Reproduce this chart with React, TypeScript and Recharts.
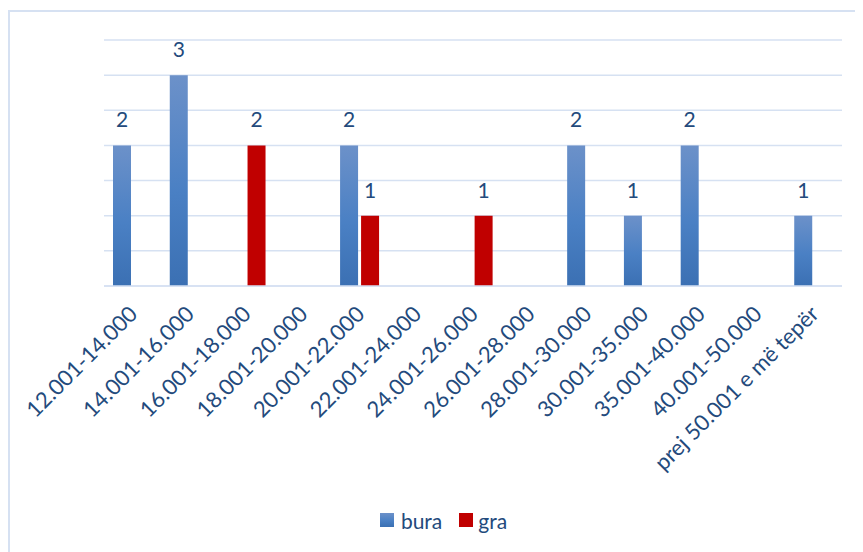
import React from "react";
import { BarChart, Bar, XAxis, YAxis, CartesianGrid, Legend, LabelList } from "recharts";

const categories = [
  "12.001-14.000",
  "14.001-16.000",
  "16.001-18.000",
  "18.001-20.000",
  "20.001-22.000",
  "22.001-24.000",
  "24.001-26.000",
  "26.001-28.000",
  "28.001-30.000",
  "30.001-35.000",
  "35.001-40.000",
  "40.001-50.000",
  "prej 50.001 e më tepër",
];
const bura = [2, 3, null, null, 2, null, null, null, 2, 1, 2, null, 1];
const gra = [null, null, 2, null, 1, null, 1, null, null, null, null, null, null];
const yTicks = [0, 0.5, 1, 1.5, 2, 2.5, 3, 3.5];

const data = categories.map((c, i) => ({ name: c, bura: bura[i], gra: gra[i] }));

const FONT = "Lato, 'Open Sans', sans-serif";
const TEXT = "#234A7C";
const GRID = "#D6E1F2";
const RED = "#C00000";

const AngleTick = (props: any) => {
  const { x, y, payload } = props;
  return (
    <g transform={`translate(${x + 1},${y + 24})`}>
      <text
        x={0}
        y={0}
        dy="0.35em"
        textAnchor="end"
        transform="rotate(-45)"
        fill={TEXT}
        style={{ fontFamily: FONT, fontSize: 22 }}
      >
        {payload.value}
      </text>
    </g>
  );
};

const ValueLabel = (props: any) => {
  const { x, y, width, value } = props;
  if (!value) return null;
  return (
    <text
      x={x + width / 2}
      y={y - 18}
      textAnchor="middle"
      fill={TEXT}
      style={{ fontFamily: FONT, fontSize: 21 }}
    >
      {value}
    </text>
  );
};

const LegendContent = () => (
  <div
    style={{
      height: 30,
      display: "flex",
      alignItems: "center",
      justifyContent: "center",
      fontFamily: FONT,
      fontSize: 21,
      color: TEXT,
    }}
  >
    <span
      style={{
        display: "inline-block",
        width: 14,
        height: 14,
        background: "linear-gradient(#6C91C9, #4A80C4 55%, #3B70B3)",
        marginRight: 7,
      }}
    />
    <span style={{ marginRight: 17 }}>bura</span>
    <span style={{ display: "inline-block", width: 14, height: 14, background: RED, marginRight: 5 }} />
    <span>gra</span>
  </div>
);

export default function App() {
  return (
    <div style={{ position: "relative", width: 855, height: 544, overflow: "hidden" }}>
      <div
        style={{
          position: "absolute",
          left: 0,
          top: 2,
          width: 2000,
          height: 2000,
          borderLeft: `2px solid ${GRID}`,
          borderTop: `2px solid ${GRID}`,
        }}
      />
      <div style={{ position: "absolute", left: 0, top: 0 }}>
        <BarChart
          width={855}
          height={544}
          data={data}
          margin={{ top: 32, right: 21, left: 96, bottom: 0 }}
          barSize={18}
          barGap={3}
        >
          <defs>
            <linearGradient id="blueGrad" x1="0" y1="0" x2="0" y2="1">
              <stop offset="0%" stopColor="#6C91C9" />
              <stop offset="55%" stopColor="#4A80C4" />
              <stop offset="100%" stopColor="#3B70B3" />
            </linearGradient>
          </defs>
          <CartesianGrid vertical={false} stroke={GRID} strokeWidth={1.5} />
          <YAxis hide domain={[0, 3.5]} ticks={yTicks} type="number" />
          <XAxis
            dataKey="name"
            interval={0}
            tickLine={false}
            tickSize={0}
            tickMargin={0}
            axisLine={{ stroke: GRID, strokeWidth: 1.5 }}
            height={236}
            tick={<AngleTick />}
          />
          <Legend
            verticalAlign="bottom"
            content={<LegendContent />}
            wrapperStyle={{ left: 8, width: 855, top: 497, height: 30 }}
          />
          <Bar dataKey="bura" name="bura" fill="url(#blueGrad)" isAnimationActive={false}>
            <LabelList dataKey="bura" content={<ValueLabel />} />
          </Bar>
          <Bar dataKey="gra" name="gra" fill={RED} isAnimationActive={false}>
            <LabelList dataKey="gra" content={<ValueLabel />} />
          </Bar>
        </BarChart>
      </div>
    </div>
  );
}
